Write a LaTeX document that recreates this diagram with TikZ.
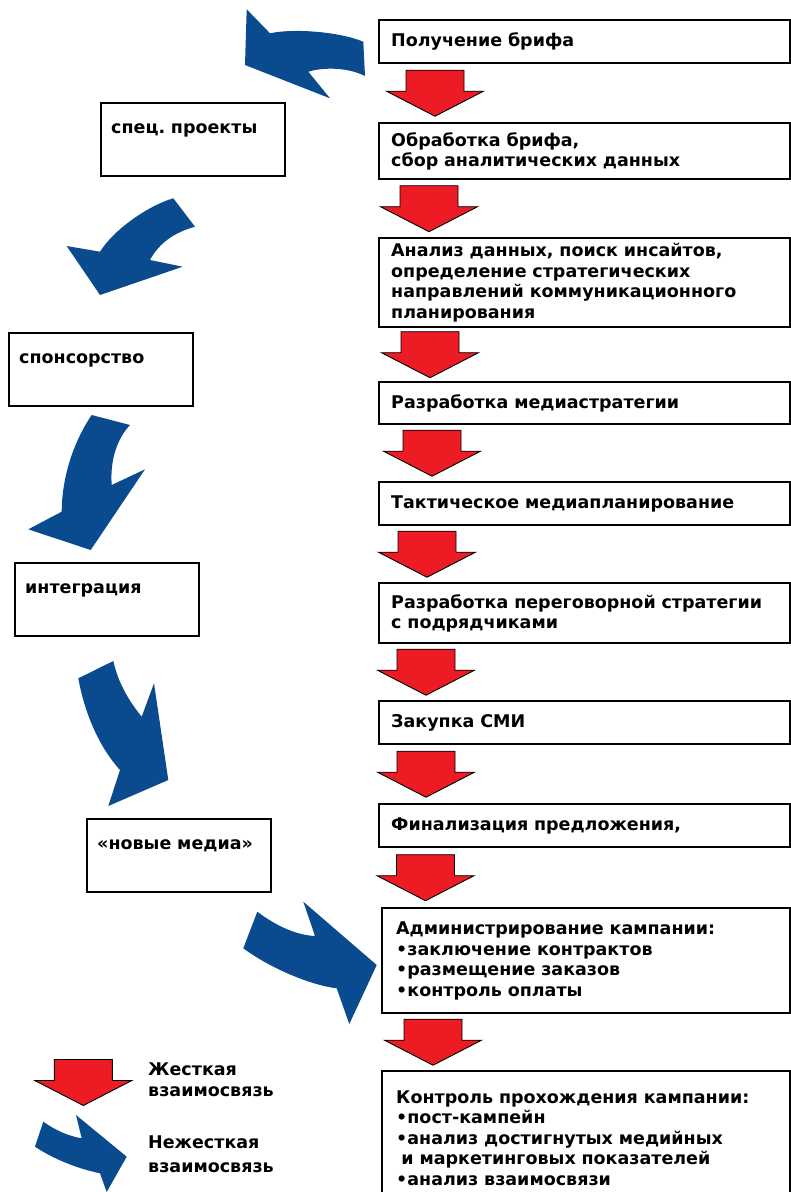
\documentclass[tikz,border=0pt]{standalone}
\usepackage{fontspec}
\setmainfont{DejaVu Sans}
\usetikzlibrary{calc}

\definecolor{hardRed}{HTML}{ED1C24}
\definecolor{softBlue}{HTML}{0A4A8F}

\frenchspacing

\begin{document}
\begin{tikzpicture}[x=1pt, y=-1pt,
        every node/.style={font=\fontsize{17.5}{20.5}\selectfont\bfseries},
        stage/.style={draw, line width=2.4pt, anchor=north west, minimum width=411pt,
            text width=387pt, inner xsep=12pt, inner ysep=0pt, align=left},
        channel/.style={draw, line width=2.4pt, anchor=north west, minimum width=184pt,
            text width=164pt, inner xsep=10pt, inner ysep=18pt, text height=12pt,
            text depth=25pt, align=left},
        hardarrow/.pic={
            \draw[fill=hardRed, line width=0.9pt]
                (-29,-23) -- (29,-23) -- (29,-2) -- (48.5,-2) -- (0,23)
                -- (-48.5,-2) -- (-29,-2) -- cycle;
        }]
        \path[fill=white, use as bounding box] (0,0) rectangle (791,1192);

        % Etapy raboty.
        \node[stage, minimum height=43pt] (brief) at (378,19) {Получение брифа};
        \node[stage, minimum height=56pt] (processing) at (378,122)
            {Обработка брифа,\\сбор аналитических данных};
        \node[stage, minimum height=89pt] (insights) at (378,237)
            {Анализ данных, поиск инсайтов,\\определение стратегических\\направлений коммуникационного\\планирования};
        \node[stage, minimum height=42pt] (strategy) at (378,381) {Разработка медиастратегии};
        \node[stage, minimum height=43pt] (tactics) at (378,481) {Тактическое медиапланирование};
        \node[stage, minimum height=60pt] (negotiation) at (378,582)
            {Разработка переговорной стратегии\\с подрядчиками};
        \node[stage, minimum height=43pt] (buying) at (378,700) {Закупка СМИ};
        \node[stage, minimum height=43pt] (proposal) at (378,803) {Финализация предложения,};
        \node[stage, minimum height=105pt, minimum width=408pt, inner xsep=14pt,
            text width=380pt] (admin) at (381,907)
            {Администрирование кампании:\\•заключение контрактов\\•размещение заказов\\•контроль оплаты};
        \node[stage, minimum height=134pt, minimum width=408pt, inner xsep=14pt,
            text width=380pt] (control) at (381,1070)
            {Контроль прохождения кампании:\\•пост-кампейн\\•анализ достигнутых медийных\\\hspace*{0.3em}и маркетинговых показателей\\•анализ взаимосвязи};

        % Zhestkie svyazi mezhdu etapami.
        \pic at ($(brief.south west)!.5!(processing.north west)+(57,0)$) {hardarrow};
        \pic at ($(processing.south west)!.5!(insights.north west)+(51,0)$) {hardarrow};
        \pic at ($(insights.south west)!.5!(strategy.north west)+(52,0)$) {hardarrow};
        \pic at ($(strategy.south west)!.5!(tactics.north west)+(54,0)$) {hardarrow};
        \pic at ($(tactics.south west)!.5!(negotiation.north west)+(49,0)$) {hardarrow};
        \pic at ($(negotiation.south west)!.5!(buying.north west)+(48,0)$) {hardarrow};
        \pic at ($(buying.south west)!.5!(proposal.north west)+(48,0)$) {hardarrow};
        \pic at ($(proposal.south west)!.5!(admin.north west)+(46,0)$) {hardarrow};
        \pic at ($(admin.south west)!.5!(control.north west)+(52,0)$) {hardarrow};

        % Kanaly sleva.
        \node[channel] (special) at (100,102) {спец. проекты};
        \node[channel] (sponsorship) at (8,332) {спонсорство};
        \node[channel] (integration) at (14,562) {интеграция};
        \node[channel] (newmedia) at (86,818) {«новые медиа»};

        % Nezhestkie svyazi.
        \fill[softBlue] (363.3,41.7) .. controls (340,32) and (295,28) .. (270,33.3)
            -- (246.7,9.3) -- (245,65) -- (330,98.3) -- (308.3,71.7)
            .. controls (320,68) and (345,66) .. (365,76) -- cycle;
        \fill[softBlue] (173.3,198.3) .. controls (150,205) and (115,228) .. (100,251.7)
            -- (66.7,246) -- (100,295) -- (182.7,266.7) -- (150,260)
            .. controls (158,245) and (172,233) .. (195,226.7) -- cycle;
        \fill[softBlue] (91.7,415) .. controls (78,435) and (62,470) .. (61.7,511.7)
            -- (28.3,529.3) -- (90.7,550) -- (145,469.3) -- (111.7,485)
            .. controls (110,462) and (116,440) .. (130,425) -- cycle;
        \fill[softBlue] (78.3,678.3) .. controls (85,715) and (100,748) .. (120,770)
            -- (108.3,806) -- (168.3,780) -- (154,683.3) -- (141.7,716.7)
            .. controls (128,700) and (118,682) .. (113.3,661) -- cycle;
        \fill[softBlue] (257.3,911.7) .. controls (275,925) and (295,935) .. (315,936)
            -- (303.3,901.7) -- (376.7,965) -- (349.3,1024) -- (336.7,988.3)
            .. controls (310,985) and (270,968) .. (243.3,948.3) -- cycle;

        % Legenda.
        \pic at (83.3,1082.5) {hardarrow};
        \node[anchor=base west, inner sep=0pt] (hardtop) at (148,1075) {Жесткая};
        \node[anchor=base west, inner sep=0pt] (hardbottom) at (148,1096) {взаимосвязь};
        \fill[softBlue] (43.3,1121.7) .. controls (55,1130) and (68,1136) .. (81.7,1138.3)
            -- (76,1115) -- (126.7,1156.7) -- (106.7,1192) -- (100,1173.3)
            .. controls (75,1168) and (52,1158) .. (35,1146.7) -- cycle;
        \node[anchor=base west, inner sep=0pt] (softtop) at (148,1148) {Нежесткая};
        \node[anchor=base west, inner sep=0pt] (softbottom) at (148,1172) {взаимосвязь};
\end{tikzpicture}
\end{document}
